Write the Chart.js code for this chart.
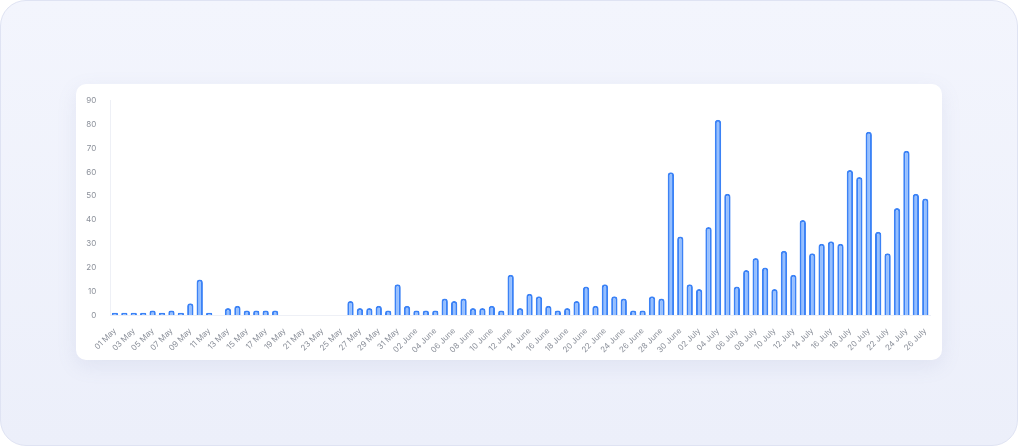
<!DOCTYPE html>
<html><head><meta charset="utf-8">
<script src="https://cdn.jsdelivr.net/npm/chart.js@4"></script>
<style>
html,body{margin:0;padding:0;width:1018px;height:446px;overflow:hidden;background:#fff;}
.outer{position:absolute;left:0;top:0;width:1016px;height:444px;border:1px solid #dfe3f3;border-radius:26px;background:linear-gradient(180deg,#f3f5fd,#eceffa);}
.card{position:absolute;left:76px;top:84px;width:866px;height:276px;background:#fff;border-radius:10px;box-shadow:0 6px 20px rgba(120,130,180,0.12);}
.wrap{position:absolute;left:4px;top:6px;width:858px;height:268px;}
</style></head><body>
<div class="outer"></div>
<div class="card"><div class="wrap"><canvas id="c"></canvas></div></div>
<script>
const mayVals=[1,1,1,1,2,1,2,1,5,15,1,0,3,4,2,2,2,2,0,0,0,0,0,0,0,6,3,3,4,2,13];
const juneVals=[4,2,2,2,7,6,7,3,3,4,2,17,3,9,8,4,2,3,6,12,4,13,8,7,2,2,8,7,60,33];
const julyVals=[13,11,37,82,51,12,19,24,20,11,27,17,40,26,30,31,30,61,58,77,35,26,45,69,51,49];
const yTicks=[0,10,20,30,40,50,60,70,80,90];
const pad=n=>String(n).padStart(2,'0');
const labels=[...mayVals.map((v,i)=>pad(i+1)+' May'),...juneVals.map((v,i)=>pad(i+1)+' June'),...julyVals.map((v,i)=>pad(i+1)+' July')];
const values=[...mayVals,...juneVals,...julyVals];
new Chart(document.getElementById('c'),{
type:'bar',
data:{labels,datasets:[{data:values,backgroundColor:'rgba(138,184,255,0.9)',borderColor:'#3b82f6',borderWidth:2,borderRadius:{topLeft:4,topRight:4},borderSkipped:'bottom',categoryPercentage:0.75,barPercentage:0.9}]},
options:{responsive:true,maintainAspectRatio:false,animation:false,
plugins:{legend:{display:false},tooltip:{enabled:false}},
layout:{padding:{right:8}},
scales:{
x:{grid:{display:false},border:{color:'#eef0f6'},ticks:{font:{size:8,family:'Inter'},color:'#8a8f99',maxRotation:45,minRotation:45,autoSkip:false,callback:function(v,i){return i%2===0?this.getLabelForValue(v):'';}}},
y:{min:0,max:90,afterBuildTicks:a=>{a.ticks=yTicks.map(v=>({value:v}));},grid:{display:false},border:{color:'#eef0f6'},ticks:{font:{size:8,family:'Inter'},color:'#8a8f99',padding:6}}
}}});
</script></body></html>
